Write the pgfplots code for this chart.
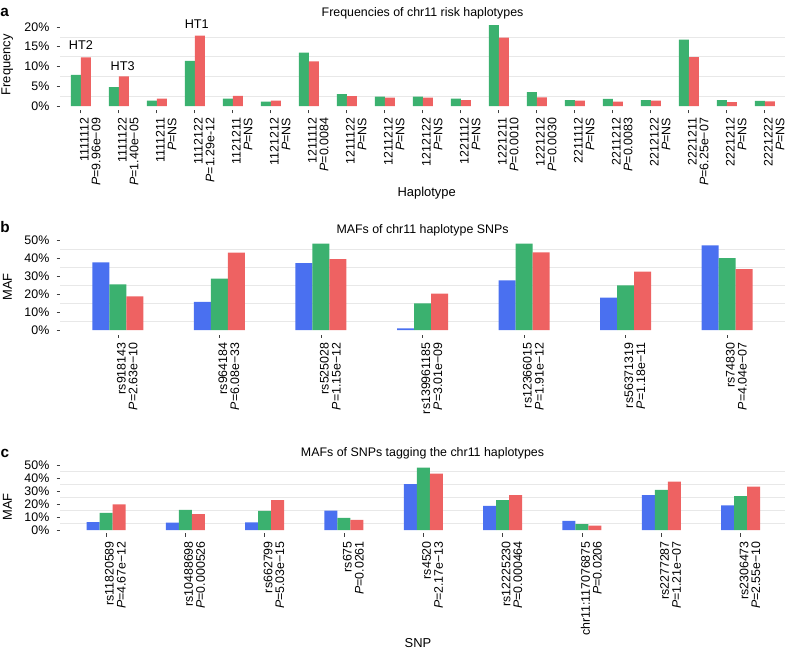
\documentclass[border=0pt]{standalone}
\usepackage{pgfplots}
\pgfplotsset{compat=1.18}
\usepackage{fontspec}
\setmainfont{Liberation Sans}
\definecolor{cblue}{HTML}{4A70F0}
\definecolor{cgreen}{HTML}{3BB16F}
\definecolor{cred}{HTML}{EE6262}
\newcommand{\tf}{\fontsize{9.3}{8.9}\selectfont}
\pgfplotsset{
  panel/.style={
    scale only axis, width=543.75pt,
    axis line style={draw=none},
    clip mode=individual,
    tick pos=left, tick align=outside,
    major tick length=2.5pt, minor tick length=0pt,
    tick style={black!75, line width=0.6pt},
    yminorgrids, minor y tick num=1,
    minor grid style={black!9, line width=0.5pt},
    ybar=0pt,
    /pgf/number format/assume math mode=true,
    ticklabel style={font=\tf},
    yticklabel={\pgfmathprintnumber{\tick}\%},
    xticklabel style={rotate=90, anchor=east, align=right, yshift=-7pt},
    yticklabel style={xshift=-2pt},
  }
}
\begin{document}
\begin{tikzpicture}
\useasboundingbox (0,0) rectangle (591pt,487.5pt);

% ---------------- panel a
\begin{axis}[panel, at={(45pt,405pt)}, anchor=south west,
  height=66.7pt, ymin=-1, ymax=21.5, ytick={0,5,10,15,20},
  xmin=-0.55, xmax=18.53, bar width=7.5pt,
  xtick={0,...,18},
  xticklabels={
    {1111112\\\textit{P}=9.96e−09},{1111122\\\textit{P}=1.40e−05},
    {1111211\\\textit{P}=NS},{1112122\\\textit{P}=1.29e-12},
    {1121211\\\textit{P}=NS},{1121212\\\textit{P}=NS},
    {1211112\\\textit{P}=0.0084},{1211122\\\textit{P}=NS},
    {1211212\\\textit{P}=NS},{1212122\\\textit{P}=NS},
    {1221112\\\textit{P}=NS},{1221211\\\textit{P}=0.0010},
    {1221212\\\textit{P}=0.0030},{2211112\\\textit{P}=NS},
    {2211212\\\textit{P}=0.0083},{2212122\\\textit{P}=NS},
    {2221211\\\textit{P}=6.25e−07},{2221212\\\textit{P}=NS},
    {2221222\\\textit{P}=NS}},
]
\addplot[fill=cgreen, draw=none] coordinates {
  (0,7.9) (1,4.8) (2,1.4) (3,11.4) (4,1.9) (5,1.1) (6,13.5) (7,3.0) (8,2.4)
  (9,2.4) (10,1.9) (11,20.5) (12,3.5) (13,1.5) (14,1.8) (15,1.5) (16,16.8)
  (17,1.5) (18,1.3)};
\addplot[fill=cred, draw=none] coordinates {
  (0,12.3) (1,7.5) (2,1.9) (3,17.8) (4,2.6) (5,1.4) (6,11.3) (7,2.5) (8,2.1)
  (9,2.1) (10,1.5) (11,17.3) (12,2.2) (13,1.4) (14,1.1) (15,1.4) (16,12.4)
  (17,1.0) (18,1.2)};
\node[font=\fontsize{9.5}{10}\selectfont] at (axis cs:0,15.4) {HT2};
\node[font=\fontsize{9.5}{10}\selectfont] at (axis cs:1.1,10.1) {HT3};
\node[font=\fontsize{9.5}{10}\selectfont] at (axis cs:3.05,20.8) {HT1};
\end{axis}

% ---------------- panel b
\begin{axis}[panel, at={(45pt,236.6pt)}, anchor=south west,
  height=74.25pt, ymin=-2.5, ymax=52.5, ytick={0,10,20,30,40,50},
  xmin=-0.571, xmax=6.571, bar width=12.75pt,
  xtick={0,...,6},
  xticklabels={
    {rs918143\\\textit{P}=2.63e−10},{rs964184\\\textit{P}=6.08e−33},
    {rs525028\\\textit{P}=1.15e−12},{rs139961185\\\textit{P}=3.01e−09},
    {rs12366015\\\textit{P}=1.91e−12},{rs56371319\\\textit{P}=1.18e−11},
    {rs74830\\\textit{P}=4.04e−07}},
]
\addplot[fill=cblue, draw=none] coordinates {
  (0,37.6) (1,15.7) (2,37.2) (3,0.9) (4,27.6) (5,18.0) (6,47.0)};
\addplot[fill=cgreen, draw=none] coordinates {
  (0,25.4) (1,28.5) (2,48.0) (3,14.8) (4,48.0) (5,24.8) (6,40.0)};
\addplot[fill=cred, draw=none] coordinates {
  (0,18.7) (1,43.0) (2,39.4) (3,20.2) (4,43.1) (5,32.4) (6,33.9)};
\end{axis}

% ---------------- panel c
\begin{axis}[panel, at={(45pt,87.56pt)}, anchor=south west,
  height=53.6pt, ymin=-2.5, ymax=52.5, ytick={0,10,20,30,40,50},
  xmin=-0.58, xmax=8.56, bar width=9.75pt,
  xtick={0,...,8},
  xticklabels={
    {rs11820589\\\textit{P}=4.67e−12},{rs10488698\\\textit{P}=0.000526},
    {rs662799\\\textit{P}=5.03e−15},{rs675\\\textit{P}=0.0261},
    {rs4520\\\textit{P}=2.17e−13},{rs12225230\\\textit{P}=0.000464},
    {chr11:117076875\\\textit{P}=0.0206},{rs2277287\\\textit{P}=1.21e−07},
    {rs2306473\\\textit{P}=2.55e−10}},
]
\addplot[fill=cblue, draw=none] coordinates {
  (0,6.1) (1,5.6) (2,5.8) (3,14.9) (4,35.4) (5,18.5) (6,7.1) (7,26.8) (8,19.0)};
\addplot[fill=cgreen, draw=none] coordinates {
  (0,13.2) (1,15.4) (2,14.7) (3,9.4) (4,48.1) (5,23.0) (6,4.6) (7,30.9) (8,26.1)};
\addplot[fill=cred, draw=none] coordinates {
  (0,19.7) (1,12.2) (2,23.0) (3,7.8) (4,43.3) (5,26.8) (6,3.3) (7,37.2) (8,33.4)};
\end{axis}

% ---------------- titles, panel letters, axis labels
\begin{scope}[every node/.style={font=\fontsize{9.3}{10}\selectfont}]
\node at (316.9pt,477.75pt) {Frequencies of chr11 risk haplotypes};
\node at (316.9pt,315pt) {MAFs of chr11 haplotype SNPs};
\node at (316.9pt,147.75pt) {MAFs of SNPs tagging the chr11 haplotypes};
\end{scope}
\begin{scope}[every node/.style={font=\fontsize{9.7}{10}\selectfont}]
\node[rotate=90] at (5.5pt,439pt) {Frequency};
\node[rotate=90] at (5.5pt,272.25pt) {MAF};
\node[rotate=90] at (5.5pt,107.25pt) {MAF};
\node at (320pt,342.75pt) {Haplotype};
\node at (313.5pt,5.5pt) {SNP};
\end{scope}
\begin{scope}[every node/.style={font=\fontsize{11.5}{12}\selectfont\bfseries}]
\node at (3.5pt,478.5pt) {a};
\node at (3.75pt,317.25pt) {b};
\node at (3.75pt,147.75pt) {c};
\end{scope}
\end{tikzpicture}
\end{document}
